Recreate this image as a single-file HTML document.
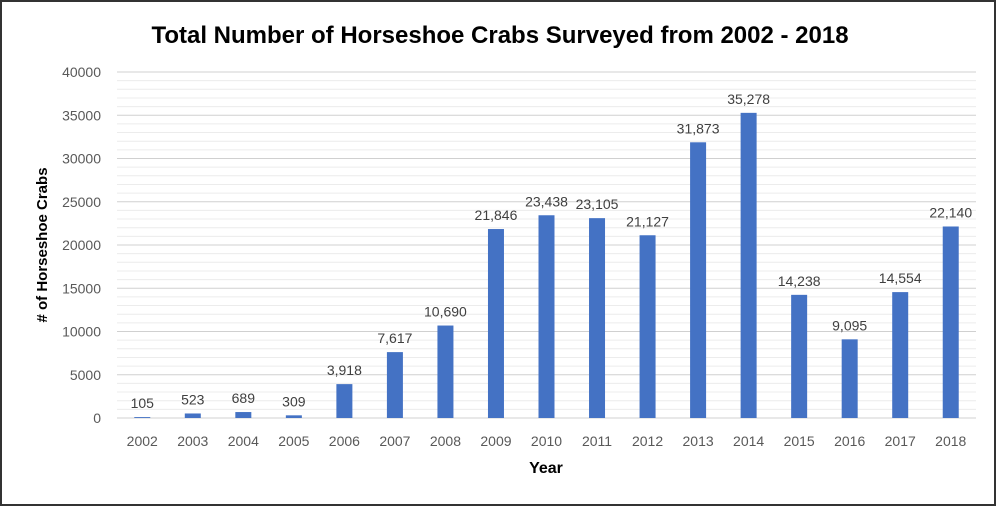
<!DOCTYPE html>
<html><head><meta charset="utf-8"><style>
body{margin:0;background:#fff;}
svg{display:block;font-family:"Liberation Sans",sans-serif;}
</style></head><body>
<svg id="chart" width="998" height="508">
<rect x="1" y="1" width="994" height="504" fill="#fff" stroke="#333" stroke-width="2"/>
<text x="500" y="43" text-anchor="middle" font-size="24" font-weight="bold" fill="#000">Total Number of Horseshoe Crabs Surveyed from 2002 - 2018</text>
<g id="grid"></g>
<g id="yticks"></g>
<g id="bars"></g>
<g id="xticks"></g>
<text transform="translate(47,245) rotate(-90)" text-anchor="middle" font-size="15" font-weight="bold" fill="#000"># of Horseshoe Crabs</text>
<text x="546" y="473" text-anchor="middle" font-size="16" font-weight="bold" fill="#000">Year</text>
</svg>
<script>
const categories=["2002","2003","2004","2005","2006","2007","2008","2009","2010","2011","2012","2013","2014","2015","2016","2017","2018"];
const values=[105,523,689,309,3918,7617,10690,21846,23438,23105,21127,31873,35278,14238,9095,14554,22140];
const yTicks=[0,5000,10000,15000,20000,25000,30000,35000,40000];
const NS="http://www.w3.org/2000/svg";
const plotLeft=117,plotRight=976,plotTop=72,plotBottom=418,yMax=40000;
const yScale=v=>plotBottom-(v/yMax)*(plotBottom-plotTop);
const band=(plotRight-plotLeft)/categories.length;
const xScale=i=>plotLeft+band*(i+0.5);
function mk(t,a,p){const e=document.createElementNS(NS,t);for(const k in a)e.setAttribute(k,a[k]);p.appendChild(e);return e;}
const grid=document.getElementById('grid');
for(let v=1000;v<=yMax;v+=1000){
 const major=v%5000===0;
 const l=mk('line',{x1:plotLeft,x2:plotRight,y1:yScale(v),y2:yScale(v),stroke:major?'#d0d0d0':'#ececec','stroke-width':1},grid);
 
 
}
const ax=mk('line',{x1:plotLeft,x2:plotRight,y1:plotBottom,y2:plotBottom,stroke:'#d0d0d0','stroke-width':1},grid);


const yt=document.getElementById('yticks');
yTicks.forEach(v=>{const t=mk('text',{x:101,y:yScale(v)+5,'text-anchor':'end','font-size':14,fill:'#595959'},yt);t.textContent=v;
 
 });
const bars=document.getElementById('bars'),xt=document.getElementById('xticks');
categories.forEach((c,i)=>{
 const v=values[i],bw=16;
 const r=mk('rect',{x:xScale(i)-bw/2,y:yScale(v),width:bw,height:plotBottom-yScale(v),fill:'#4472C4'},bars);
 
 
 const lb=mk('text',{x:xScale(i),y:yScale(v)-9,'text-anchor':'middle','font-size':14,fill:'#404040'},bars);
 lb.textContent=v.toLocaleString('en-US');
 
 
 const t=mk('text',{x:xScale(i),y:446,'text-anchor':'middle','font-size':14,fill:'#595959'},xt);
 t.textContent=c;
 
 
});
</script>
</body></html>
